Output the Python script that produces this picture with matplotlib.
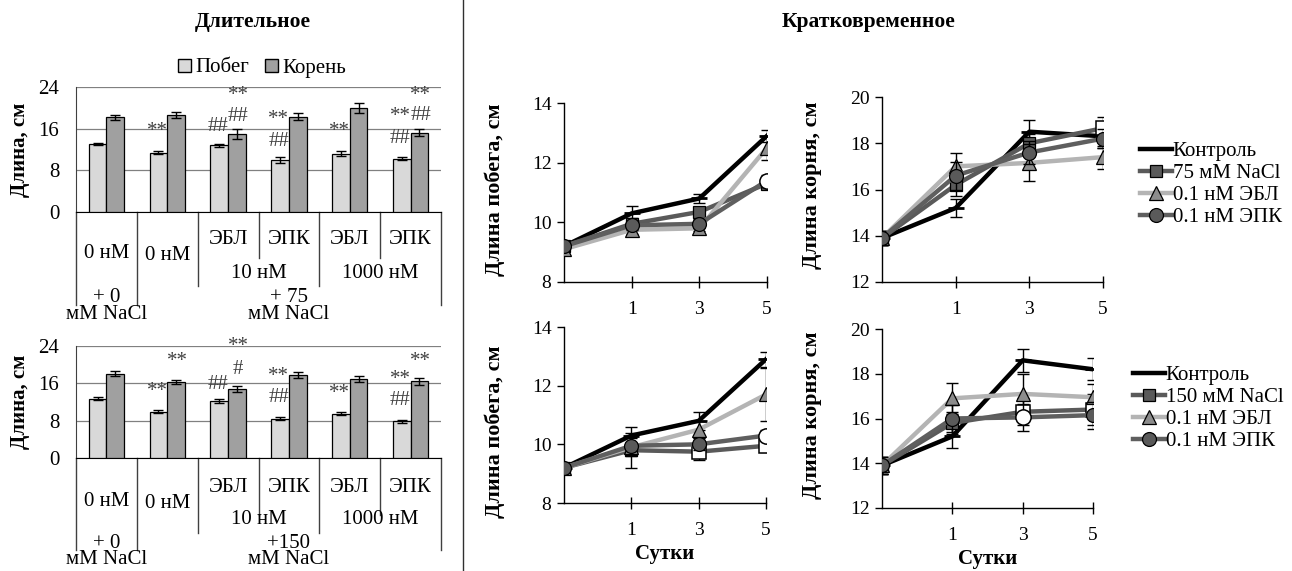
import matplotlib

matplotlib.use("Agg")
import matplotlib.pyplot as plt
from matplotlib.lines import Line2D
from matplotlib.patches import Patch
import numpy as np

plt.rcParams["font.family"] = ["Liberation Serif", "DejaVu Serif"]

W, H = 1292, 571

# ---------------- data: long-term (bars) ----------------
groups = ["g1", "g2", "g3", "g4", "g5", "g6"]
row1 = ["", "", "ЭБЛ", "ЭПК", "ЭБЛ", "ЭПК"]
conc = ["10 нМ", "1000 нМ"]

shoot_75 = [13.0, 11.4, 12.8, 10.0, 11.2, 10.2]
root_75 = [18.2, 18.6, 15.0, 18.3, 20.0, 15.2]
shoot_75_err = [0.2, 0.3, 0.3, 0.5, 0.5, 0.3]
root_75_err = [0.5, 0.6, 0.9, 0.7, 1.0, 0.7]

shoot_150 = [12.7, 9.9, 12.2, 8.4, 9.5, 7.9]
root_150 = [18.1, 16.3, 14.8, 17.8, 16.9, 16.4]
shoot_150_err = [0.3, 0.3, 0.5, 0.3, 0.3, 0.3]
root_150_err = [0.6, 0.5, 0.7, 0.6, 0.7, 0.8]

# significance marks: (group index, bar 0=shoot 1=root, height, text)
marks_75 = [(1, 0, 15.4, "**"), (2, 0, 16.4, "##"), (2, 1, 18.4, "##"), (2, 1, 22.4, "**"),
            (3, 0, 17.8, "**"), (3, 0, 13.6, "##"), (4, 0, 15.4, "**"),
            (5, 0, 18.4, "**"), (5, 0, 14.2, "##"), (5, 1, 18.6, "##"), (5, 1, 22.4, "**")]
marks_150 = [(1, 0, 14.2, "**"), (1, 1, 20.6, "**"), (2, 0, 15.8, "##"), (2, 1, 19.0, "#"),
             (2, 1, 23.8, "**"), (3, 0, 17.4, "**"), (3, 0, 13.0, "##"), (4, 0, 13.8, "**"),
             (5, 0, 16.8, "**"), (5, 0, 12.3, "##"), (5, 1, 20.6, "**")]

# ---------------- data: short-term (lines) ----------------
days = ["", "1", "3", "5"]
series = ["Контроль", "NaCl", "0.1 нМ ЭБЛ", "0.1 нМ ЭПК"]

shoot75 = [[9.2, 10.3, 10.8, 12.9], [9.2, 9.95, 10.35, 11.3],
           [9.1, 9.75, 9.8, 12.5], [9.2, 9.9, 9.95, 11.4]]
shoot75_err = [[0.1, 0.25, 0.15, 0.2], [0.1, 0.2, 0.15, 0.15],
               [0.1, 0.15, 0.1, 0.4], [0.1, 0.15, 0.15, 0.2]]
shoot75_sig = [[0, 0, 0, 0], [0, 0, 0, 0], [0, 0, 0, 0], [0, 0, 0, 1]]

root75 = [[13.9, 15.2, 18.5, 18.3], [13.9, 16.2, 18.0, 18.65],
          [13.9, 17.0, 17.15, 17.4], [13.9, 16.6, 17.6, 18.2]]
root75_err = [[0.3, 0.4, 0.5, 0.5], [0.3, 0.5, 0.4, 0.5],
              [0.3, 0.6, 0.8, 0.5], [0.3, 0.6, 0.5, 0.4]]
root75_sig = [[0, 0, 0, 0], [0, 0, 0, 1], [0, 0, 0, 0], [0, 0, 0, 0]]

shoot150 = [[9.2, 10.3, 10.8, 12.9], [9.2, 9.8, 9.75, 9.95],
            [9.2, 9.9, 10.5, 11.7], [9.2, 9.95, 10.0, 10.3]]
shoot150_err = [[0.1, 0.3, 0.3, 0.25], [0.1, 0.6, 0.3, 0.15],
                [0.1, 0.3, 0.3, 0.9], [0.1, 0.3, 0.2, 0.2]]
shoot150_sig = [[0, 0, 0, 0], [0, 0, 1, 1], [0, 0, 0, 0], [0, 0, 0, 1]]

root150 = [[13.9, 15.2, 18.6, 18.2], [13.9, 15.8, 16.3, 16.4],
           [13.9, 16.9, 17.1, 16.95], [13.9, 16.0, 16.05, 16.15]]
root150_err = [[0.4, 0.5, 0.5, 0.5], [0.4, 0.5, 0.6, 0.7],
               [0.4, 0.7, 0.9, 0.6], [0.4, 0.6, 0.6, 0.6]]
root150_sig = [[0, 0, 0, 0], [0, 0, 1, 1], [0, 0, 0, 0], [0, 0, 1, 0]]

LIGHT = "#d9d9d9"
DARK = "#a0a0a0"
MARK = "#404040"
line_col = ["#000000", "#5a5a5a", "#b4b4b4", "#5f5f5f"]
mk_face = ["#000000", "#5a5a5a", "#8c8c8c", "#5a5a5a"]
mk = ["_", "s", "^", "o"]
mk_size = [11, 9, 10, 10]


def box(l, r, t, b):
    return [l / W, 1 - b / H, (r - l) / W, (b - t) / H]


fig = plt.figure(figsize=(W / 100, H / 100), dpi=100)


def bar_panel(t, b, shoot, root, se, re, marks, salt, rows):
    ax = fig.add_axes(box(76, 441, t, b))
    x = np.arange(len(groups)) + 0.5
    w = 0.29
    ax.bar(x - w / 2, shoot, w, color=LIGHT, edgecolor="black", lw=0.9,
           yerr=se, error_kw=dict(ecolor="black", lw=1, capsize=3.5, capthick=1), zorder=3)
    ax.bar(x + w / 2, root, w, color=DARK, edgecolor="black", lw=0.9,
           yerr=re, error_kw=dict(ecolor="black", lw=1, capsize=3.5, capthick=1), zorder=3)
    for g, k, yv, txt in marks:
        ax.text(x[g] + (k - 0.5) * w * 1.15, yv, txt, ha="center", va="center",
                fontsize=15, color=MARK, zorder=4)
    ax.set_xlim(0, 6)
    ax.set_ylim(0, 24)
    ax.set_yticks([0, 8, 16, 24])
    ax.yaxis.grid(True, color="#808080", lw=0.9)
    ax.set_axisbelow(True)
    ax.tick_params(axis="y", length=0, labelsize=15, pad=12)
    ax.tick_params(axis="x", length=0, labelbottom=False)
    for s in ("top", "right"):
        ax.spines[s].set_visible(False)
    ax.spines["left"].set_color("#404040")
    ax.spines["bottom"].set_color("black")
    ax.set_ylabel("Длина, см", fontsize=15, fontweight="bold", labelpad=6)

    h = b - t

    def yf(px):
        return (b - px) / h

    tr = ax.get_xaxis_transform()
    r_txt, r0, r1, r2, c1, c2 = rows
    # separators: full, down to row-2, down to row-1
    depth = [r2, r2, r1, r0, r1, r0, r2]
    for i, d in enumerate(depth):
        ax.plot([i, i], [0, yf(d)], transform=tr, color="#404040", lw=1.0, clip_on=False)
    for i, lab in enumerate(row1):
        if lab:
            ax.text(i + 0.5, yf(r_txt), lab, transform=tr, ha="center", va="center", fontsize=15)
    ax.text(0.5, yf(c1[0]), "0 нМ", transform=tr, ha="center", va="center", fontsize=15)
    ax.text(1.5, yf(c1[0] + 2), "0 нМ", transform=tr, ha="center", va="center", fontsize=15)
    ax.text(3.0, yf(c1[1]), conc[0], transform=tr, ha="center", va="center", fontsize=15)
    ax.text(5.0, yf(c1[1]), conc[1], transform=tr, ha="center", va="center", fontsize=15)
    ax.text(0.5, yf(c2[0]), "+ 0", transform=tr, ha="center", va="center", fontsize=15)
    ax.text(0.5, yf(c2[1]), "мМ NaCl", transform=tr, ha="center", va="center", fontsize=15)
    ax.text(3.5, yf(c2[0]), salt, transform=tr, ha="center", va="center", fontsize=15)
    ax.text(3.5, yf(c2[1]), "мМ NaCl", transform=tr, ha="center", va="center", fontsize=15)
    return ax


axb1 = bar_panel(87, 212, shoot_75, root_75, shoot_75_err, root_75_err, marks_75, "+ 75",
                 (239, 258, 286, 305, (253, 273), (298, 315)))
axb2 = bar_panel(346, 458, shoot_150, root_150, shoot_150_err, root_150_err, marks_150, "+150",
                 (487, 515, 533, 550, (502, 520), (543, 560)))

fig.legend(handles=[Patch(facecolor=LIGHT, edgecolor="black", label="Побег"),
                    Patch(facecolor=DARK, edgecolor="black", label="Корень")],
           loc="center", bbox_to_anchor=(262 / W, 1 - 68 / H), ncol=2, frameon=False,
           fontsize=15, handlelength=0.6, handleheight=0.6, handletextpad=0.2,
           columnspacing=0.8, borderpad=0)

fig.text(253 / W, 1 - 22 / H, "Длительное", ha="center", va="center", fontsize=15.5,
         fontweight="bold")
fig.text(869 / W, 1 - 22 / H, "Кратковременное", ha="center", va="center", fontsize=15.5,
         fontweight="bold")
fig.add_artist(Line2D([463 / W, 463 / W], [0, 1], color="#303030", lw=1.0))


def line_panel(bx, vals, errs, sig, ylim, yticks, ylabel, salt, lab_xy, leg_xy=None,
               xlabel=False):
    ax = fig.add_axes(box(*bx))
    x = np.arange(len(days))
    for i in range(len(series)):
        v = np.array(vals[i])
        ax.errorbar(x, v, yerr=errs[i], fmt="none", ecolor="black", elinewidth=1,
                    capsize=4.5, capthick=1, zorder=2 + i)
        lbl = series[i] if i != 1 else f"{salt} мМ NaCl"
        ax.plot(x, v, color=line_col[i], lw=3.2, marker=mk[i], ms=mk_size[i],
                mfc=mk_face[i], mec="black", mew=0.9 if i else 2.0, label=lbl, zorder=3 + i)
        s = np.array(sig[i], dtype=bool)
        if s.any():
            ax.plot(x[s], v[s], ls="none", marker=mk[i], ms=mk_size[i] + 1, mfc="white",
                    mec="black", mew=1.1, zorder=3.5 + i)
    ax.set_xlim(0, 3)
    ax.set_ylim(*ylim)
    ax.set_yticks(yticks)
    ax.set_xticks([1, 2, 3])
    ax.set_xticklabels(days[1:])
    ax.tick_params(axis="x", direction="inout", length=9, width=1, labelsize=14, pad=9)
    ax.tick_params(axis="y", direction="out", length=5, width=1, labelsize=14, pad=4)
    for s_ in ("top", "right"):
        ax.spines[s_].set_visible(False)
    for s_ in ("left", "bottom"):
        ax.spines[s_].set_linewidth(1.0)
    ax.set_ylabel(ylabel, fontsize=16, fontweight="bold")
    l, r, t, b = bx
    ax.yaxis.set_label_coords((lab_xy[0] - l) / (r - l), (b - lab_xy[1]) / (b - t))
    if xlabel:
        ax.set_xlabel("Сутки", fontsize=15, fontweight="bold", labelpad=4)
    if leg_xy is not None:
        ax.legend(loc="upper left", bbox_to_anchor=(leg_xy[0] / W, 1 - leg_xy[1] / H),
                  bbox_transform=fig.transFigure, frameon=False, fontsize=15,
                  handlelength=1.5, handletextpad=0.05, labelspacing=0.12, borderpad=0)
    return ax


line_panel((564, 767, 103, 282), shoot75, shoot75_err, shoot75_sig, (8, 14), [8, 10, 12, 14],
           "Длина побега, см", 75, (505, 190))
line_panel((882, 1103, 97, 282), root75, root75_err, root75_sig, (12, 20), [12, 14, 16, 18, 20],
           "Длина корня, см", 75, (822, 185), leg_xy=(1130, 131))
line_panel((564, 766, 327, 503), shoot150, shoot150_err, shoot150_sig, (8, 14), [8, 10, 12, 14],
           "Длина побега, см", 150, (505, 432), xlabel=True)
line_panel((882, 1093, 329, 508), root150, root150_err, root150_sig, (12, 20), [12, 14, 16, 18, 20],
           "Длина корня, см", 150, (822, 415), leg_xy=(1123, 355), xlabel=True)

fig.savefig("out.png", dpi=100)
